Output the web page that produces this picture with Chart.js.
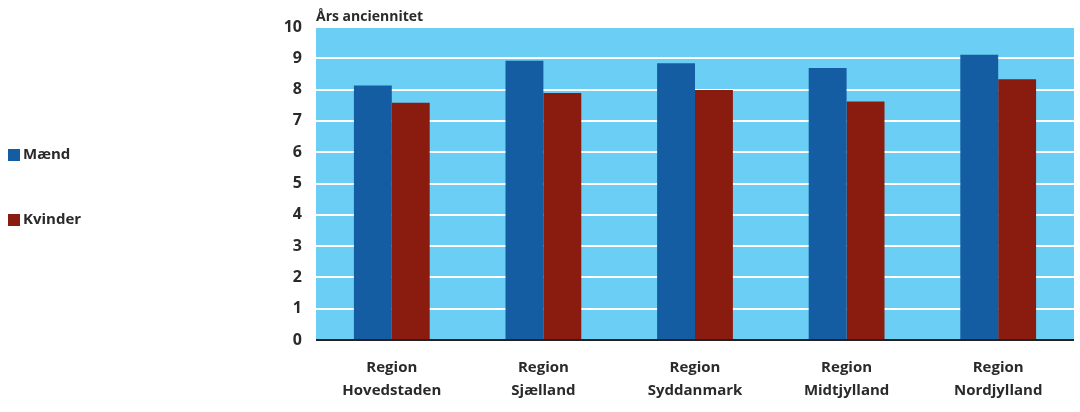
<!DOCTYPE html>
<html>
<head>
<meta charset="utf-8">
<script src="https://cdn.jsdelivr.net/npm/chart.js@4/dist/chart.umd.min.js"></script>
<style>
html,body{margin:0;padding:0;background:#fff;overflow:hidden;}
canvas{display:block;}
</style>
</head>
<body>
<canvas id="c" width="1080" height="412"></canvas>
<script>
const categories = [["Region","Hovedstaden"],["Region","Sjælland"],["Region","Syddanmark"],["Region","Midtjylland"],["Region","Nordjylland"]];
const maend = [8.13, 8.92, 8.84, 8.69, 9.11];
const kvinder = [7.58, 7.89, 7.99, 7.62, 8.33];
const seriesNames = ["Mænd", "Kvinder"];
const yTicks = [0,1,2,3,4,5,6,7,8,9,10];
const axisTitle = "Års anciennitet";

const FONT = "'Open Sans', 'DejaVu Sans', sans-serif";
const TXT = '#2a2a2a';

const bgPlugin = {
  id: 'bg',
  beforeDraw(chart) {
    const {ctx, chartArea: a} = chart;
    ctx.save();
    ctx.fillStyle = '#6BCFF5';
    ctx.fillRect(a.left, a.top, a.right - a.left, a.bottom - a.top);
    ctx.restore();
  },
  afterDraw(chart) {
    const {ctx, chartArea: a} = chart;
    ctx.save();
    ctx.fillStyle = TXT;
    ctx.font = "bold 14px " + FONT;
    ctx.textBaseline = 'alphabetic';
    ctx.textAlign = 'left';
    ctx.fillText(axisTitle, a.left, a.top - 6);
    const ds = chart.data.datasets;
    const ys = [155, 220];
    ctx.font = "bold 15px " + FONT;
    ds.forEach((d, i) => {
      ctx.fillStyle = d.backgroundColor;
      ctx.fillRect(8, ys[i] - 6, 12, 12);
      ctx.fillStyle = TXT;
      ctx.textBaseline = 'middle';
      ctx.fillText(d.label, 23, ys[i]);
    });
    ctx.restore();
  }
};

new Chart(document.getElementById('c'), {
  type: 'bar',
  data: {
    labels: categories,
    datasets: [
      {label: seriesNames[0], data: maend, backgroundColor: '#155DA3', borderWidth: 0},
      {label: seriesNames[1], data: kvinder, backgroundColor: '#8A1B0F', borderWidth: 0}
    ]
  },
  options: {
    responsive: false,
    animation: false,
    devicePixelRatio: 1,
    layout: {padding: {left: 262, right: 6, top: 27, bottom: 10}},
    plugins: {legend: {display: false}, tooltip: {enabled: false}},
    datasets: {bar: {categoryPercentage: 0.5, barPercentage: 1.0}},
    scales: {
      x: {
        afterFit(axis) { axis.height = 62; },
        grid: {display: false, drawTicks: false},
        border: {display: false},
        ticks: {color: TXT, font: {family: FONT, size: 15, weight: 'bold', lineHeight: 1.55}, padding: 16, maxRotation: 0}
      },
      y: {
        min: 0, max: 10,
        afterBuildTicks(axis) { axis.ticks = yTicks.map(v => ({value: v})); },
        afterFit(axis) { axis.width = 54; },
        grid: {
          drawTicks: false,
          color: ctx => ctx.tick && ctx.tick.value === 0 ? '#222222' : '#ffffff',
          lineWidth: 2
        },
        border: {display: false},
        ticks: {color: TXT, font: {family: FONT, size: 16, weight: 'bold'}, padding: 14}
      }
    }
  },
  plugins: [bgPlugin]
});
</script>
</body>
</html>
